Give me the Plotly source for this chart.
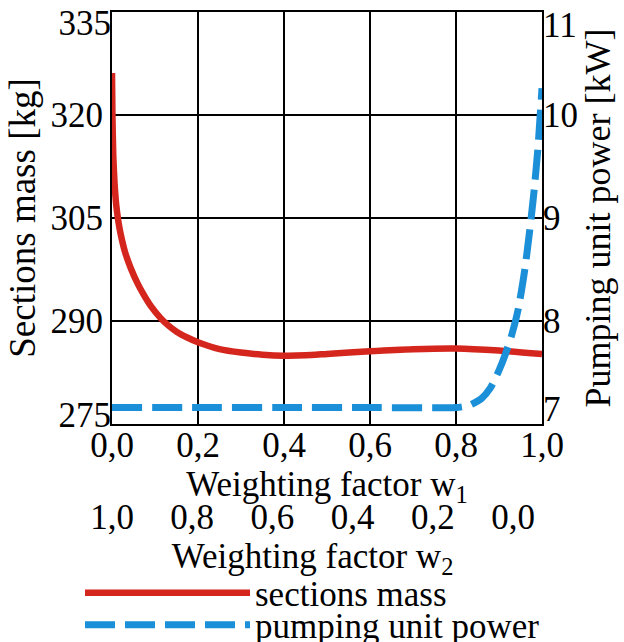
import plotly.graph_objects as go

# ---- data ----
w1_mass = [0.0, 0.001, 0.003, 0.006, 0.010, 0.015, 0.020, 0.030, 0.043, 0.060, 0.074,
           0.090, 0.112, 0.130, 0.151, 0.175, 0.200, 0.250, 0.300, 0.350, 0.400,
           0.450, 0.500, 0.600, 0.700, 0.800, 0.900, 1.000]
mass = [326.1, 320.0, 314.0, 310.0, 306.8, 304.4, 302.7, 300.1, 297.8, 295.4, 293.8,
        292.2, 290.5, 289.4, 288.4, 287.6, 286.9, 285.9, 285.4, 285.1, 284.95,
        285.0, 285.2, 285.6, 285.9, 286.0, 285.7, 285.2]

w1_power = [0.0, 0.2, 0.4, 0.6, 0.8, 0.83, 0.86, 0.88, 0.90, 0.915, 0.93,
            0.945, 0.96, 0.97, 0.98, 0.99, 1.0]
power = [7.16, 7.16, 7.16, 7.16, 7.16, 7.18, 7.25, 7.35, 7.52, 7.68, 7.87,
         8.12, 8.50, 8.83, 9.20, 9.65, 10.26]

w1_ticks = [0.0, 0.2, 0.4, 0.6, 0.8, 1.0]
w1_labels = ["0,0", "0,2", "0,4", "0,6", "0,8", "1,0"]
w2_ticks = [1.0, 0.8, 0.6, 0.4, 0.2, 0.0]
w2_labels = ["1,0", "0,8", "0,6", "0,4", "0,2", "0,0"]
mass_range = [275, 335]
mass_ticks_inner = [290, 305, 320]
power_range = [7, 11]
power_ticks_inner = [8, 9, 10]

RED = "#d4261d"
BLUE = "#1b8fd8"
FONT = "Liberation Serif"
TICK_SIZE = 35
TITLE_SIZE = 35
YTITLE_SIZE = 37

fig = go.Figure()
fig.add_trace(go.Scatter(
    x=w1_mass, y=mass, mode="lines", name="sections mass",
    line=dict(color=RED, width=6.5, shape="spline", smoothing=0.6),
    legend="legend", hoverinfo="skip"))
fig.add_trace(go.Scatter(
    x=w1_power, y=power, mode="lines", name="pumping unit power",
    yaxis="y2", line=dict(color=BLUE, width=7, dash="30px,10px", shape="spline", smoothing=0.6),
    legend="legend2", hoverinfo="skip"))
# carrier traces for the helper axes (no visible marks)
for ax_x, ax_y in [("x2", "y3"), ("x", "y4"), ("x", "y5"), ("x", "y6"), ("x", "y7")]:
    fig.add_trace(go.Scatter(
        x=[w1_ticks[0]], y=[None], xaxis=ax_x, yaxis=ax_y,
        mode="lines", showlegend=False, hoverinfo="skip"))

paper_bottom = 503
top = 12
plot_bottom = 424
H = 642
ph = paper_bottom - top
ydom0 = (paper_bottom - plot_bottom) / ph

tickfont = dict(family=FONT, size=TICK_SIZE, color="black")
axis_common = dict(
    showline=True, linecolor="black", linewidth=2, mirror=True,
    ticks="", zeroline=False, ticklabeloverflow="allow", tickfont=tickfont,
)


def edge_axis(side, rng, val, shift):
    # end-of-range labels are drawn pulled inward, as in the reference
    return dict(overlaying="y", side=side, anchor="x", range=rng,
                tickvals=[val], ticklabelshift=shift,
                showgrid=False, showline=False, ticks="", zeroline=False,
                ticklabeloverflow="allow", tickfont=tickfont)


fig.update_layout(
    width=624, height=642,
    margin=dict(l=112, r=82, t=top, b=H - paper_bottom, pad=0, autoexpand=False),
    paper_bgcolor="white", plot_bgcolor="white",
    font=dict(family=FONT, color="black"),
    xaxis=dict(
        domain=[0, 1], range=[0, 1], anchor="y",
        tickvals=w1_ticks, ticktext=w1_labels, ticklabelstandoff=-11,
        showgrid=True, gridcolor="black", gridwidth=2,
        title=dict(text="Weighting factor w<sub>1</sub>",
                   font=dict(family=FONT, size=TITLE_SIZE, color="black"), standoff=0),
        **axis_common),
    yaxis=dict(
        domain=[ydom0, 1], range=mass_range, anchor="x",
        tickvals=mass_ticks_inner,
        showgrid=True, gridcolor="black", gridwidth=2,
        title=dict(text="Sections mass [kg]",
                   font=dict(family=FONT, size=YTITLE_SIZE, color="black"), standoff=4),
        **axis_common),
    yaxis2=dict(
        overlaying="y", side="right", range=power_range, anchor="x",
        tickvals=power_ticks_inner, showgrid=False,
        showline=False, ticks="", zeroline=False, ticklabeloverflow="allow",
        tickfont=tickfont,
        title=dict(text="Pumping unit power [kW]",
                   font=dict(family=FONT, size=YTITLE_SIZE - 1, color="black"), standoff=4)),
    yaxis4=edge_axis("left", mass_range, mass_range[1], 11),
    yaxis5=edge_axis("left", mass_range, mass_range[0], -9),
    yaxis6=edge_axis("right", power_range, power_range[1], 13),
    yaxis7=edge_axis("right", power_range, power_range[0], -15),
    xaxis2=dict(
        domain=[0, 0.933], range=[1, 0], anchor="y3",
        tickvals=w2_ticks, ticktext=w2_labels, ticklabelstandoff=-10,
        showgrid=False, showline=False, ticks="", zeroline=False,
        ticklabeloverflow="allow", tickfont=tickfont,
        title=dict(text="Weighting factor w<sub>2</sub>",
                   font=dict(family=FONT, size=TITLE_SIZE, color="black"), standoff=0)),
    yaxis3=dict(domain=[0, 0.001], visible=False, anchor="x2", range=[0, 1]),
    legend=dict(
        x=(80 - 112) / 430, xanchor="left",
        y=(paper_bottom - 593) / ph, yanchor="middle",
        itemwidth=165, bgcolor="rgba(0,0,0,0)",
        font=dict(family=FONT, size=TITLE_SIZE, color="black")),
    legend2=dict(
        x=(80 - 112) / 430, xanchor="left",
        y=(paper_bottom - 625) / ph, yanchor="middle",
        itemwidth=165, bgcolor="rgba(0,0,0,0)",
        font=dict(family=FONT, size=TITLE_SIZE, color="black")),
    showlegend=True,
)

fig.write_html("out.html", config={"displayModeBar": False},
               post_script="document.body.style.margin='0';")
